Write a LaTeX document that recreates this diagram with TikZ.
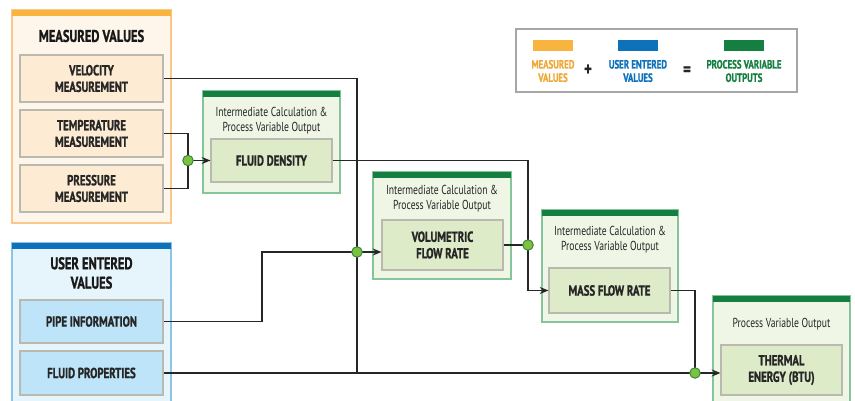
\documentclass[tikz,border=0pt]{standalone}
\usepackage{fontspec}
\usetikzlibrary{arrows.meta}
\newfontfamily\condfont[FakeStretch=0.74, BoldFeatures={FakeBold=1.2}]{PT Sans}
\definecolor{measbar}{HTML}{F9B33F}
\definecolor{measfill}{HTML}{FEF6EA}
\definecolor{measline}{HTML}{F8C98A}
\definecolor{measbox}{HTML}{FDEBD3}
\definecolor{userbar}{HTML}{0E72BA}
\definecolor{userfill}{HTML}{E6F4FC}
\definecolor{userline}{HTML}{8CC4E8}
\definecolor{userbox}{HTML}{BDE4F8}
\definecolor{procbar}{HTML}{157F42}
\definecolor{procfill}{HTML}{EFF6E6}
\definecolor{procline}{HTML}{86C49A}
\definecolor{procbox}{HTML}{DDEBC9}
\definecolor{boxline}{HTML}{B9B9B0}
\definecolor{dotfill}{HTML}{7BC242}
\definecolor{dotline}{HTML}{2F7F34}
\begin{document}
\begin{tikzpicture}[x = 0.02cm, y = -0.02cm,
        every node/.append style = {font = \condfont},
        flowline/.style = {line width = 0.85pt, black!85},
        tip/.style = {-{Stealth[length = 5pt, width = 4pt]}},
        valbox/.style = {draw = boxline, line width = 0.6pt, minimum width = 2.86cm,
            align = center, inner sep = 0pt, text = black!85,
            font = \condfont\bfseries\fontsize{8.3}{9.4}\selectfont},
        calcbox/.style = {valbox, fill = procbox, minimum width = 2.42cm},
        heading/.style = {align = center, text = black!90, font = \condfont\bfseries\fontsize{9.6}{11}\selectfont},
        caption/.style = {align = center, text = black!85, font = \condfont\fontsize{7.4}{8.4}\selectfont},
        joint/.style = {circle, fill = dotfill, draw = dotline, line width = 0.5pt,
            inner sep = 0pt, minimum size = 6pt},
        legend/.style = {align = center, font = \condfont\bfseries\fontsize{6.8}{7.6}\selectfont}]
    \useasboundingbox (0,0) rectangle (855,401);
    \clip (0,0) rectangle (855,401);

    % input panels
    \filldraw[fill = measfill, draw = measline, line width = 0.7pt] (12,10) rectangle (171,223);
    \fill[measbar] (12,10) rectangle (171,16);
    \node[heading] (meastitle) at (91.5,36) {MEASURED VALUES};
    \filldraw[fill = userfill, draw = userline, line width = 0.7pt] (12,243) rectangle (171,420);
    \fill[userbar] (12,243) rectangle (171,249);
    \node[heading] (usertitle) at (91.5,273) {USER ENTERED\\VALUES};

    % calculation panels
    \foreach \xa/\ya/\xb/\yb in {203/91/340/193, 373/172/511/279, 542/210/678/322, 713/296/850/420} {
        \filldraw[fill = procfill, draw = procline, line width = 0.7pt] (\xa,\ya) rectangle (\xb,\yb);
        \fill[procbar] (\xa,\ya) rectangle (\xb,\ya+6);
    }
    \node[caption] (densitycap) at (271.5,121) {Intermediate Calculation \&\\Process Variable Output};
    \node[caption] (volumecap) at (442,199) {Intermediate Calculation \&\\Process Variable Output};
    \node[caption] (masscap) at (610,240) {Intermediate Calculation \&\\Process Variable Output};
    \node[caption] (thermalcap) at (781.5,324) {Process Variable Output};

    % value boxes
    \node[valbox, fill = measbox, minimum height = 0.94cm] (velocity) at (91.5,78.5) {VELOCITY\\MEASUREMENT};
    \node[valbox, fill = measbox, minimum height = 0.94cm] (temperature) at (91.5,133.5) {TEMPERATURE\\MEASUREMENT};
    \node[valbox, fill = measbox, minimum height = 0.94cm] (pressure) at (91.5,188.5) {PRESSURE\\MEASUREMENT};
    \node[valbox, fill = userbox, minimum height = 0.86cm] (pipe) at (91.5,321.5) {PIPE INFORMATION};
    \node[valbox, fill = userbox, minimum height = 0.88cm] (fluid) at (91.5,373) {FLUID PROPERTIES};

    \node[calcbox, minimum height = 0.86cm] (density) at (271.5,160.5) {FLUID DENSITY};
    \node[calcbox, minimum height = 1.0cm] (volume) at (442.5,245) {VOLUMETRIC\\FLOW RATE};
    \node[calcbox, minimum height = 0.9cm] (mass) at (609.5,290.5) {MASS FLOW RATE};
    \node[calcbox, minimum height = 1.0cm] (thermal) at (781.5,370) {THERMAL\\ENERGY (BTU)};

    % connectors
    \coordinate (j1) at (188,160.5);
    \coordinate (j2) at (357,252);
    \coordinate (j3) at (528,245);
    \coordinate (j4) at (695,373);
    \coordinate (velodown) at (357,373);
    \coordinate (pipebend) at (262,252);

    \draw[flowline] (temperature.east) -| (j1);
    \draw[flowline] (pressure.east) -| (j1);
    \draw[flowline, tip] (j1) -- (density.west);
    \draw[flowline] (velocity.east) -| (velodown);
    \draw[flowline] (pipe.east) -| (pipebend) -- (j2);
    \draw[flowline, tip] (j2) -- (volume.west |- j2);
    \draw[flowline] (density.east) -| (j3);
    \draw[flowline] (volume.east) -- (j3);
    \draw[flowline, tip] (j3) |- (mass.west);
    \draw[flowline] (mass.east) -| (j4);
    \draw[flowline] (fluid.east) -- (j4);
    \draw[flowline, tip] (j4) -- (thermal.west |- j4);
    \foreach \j in {j1, j2, j3, j4}
        \node[joint] at (\j) {};

    % key
    \draw[draw = black!35, line width = 0.7pt] (516,29) rectangle (797,92);
    \fill[measbar] (533,40) rectangle (573,51);
    \fill[userbar] (618,40) rectangle (658,51);
    \fill[procbar] (724,40) rectangle (764,51);
    \node[legend, text = measbar!95!black] (keymeas) at (553,71) {MEASURED\\VALUES};
    \node[legend, text = userbar] (keyuser) at (638,71) {USER ENTERED\\VALUES};
    \node[legend, text = procbar] (keyproc) at (744,71) {PROCESS VARIABLE\\OUTPUTS};
    \node[font = \condfont\bfseries\fontsize{11}{12}\selectfont, text = black!85] (keyplus) at (588,70) {+};
    \node[font = \condfont\bfseries\fontsize{11}{12}\selectfont, text = black!85] (keyequal) at (687,71) {=};
\end{tikzpicture}
\end{document}
